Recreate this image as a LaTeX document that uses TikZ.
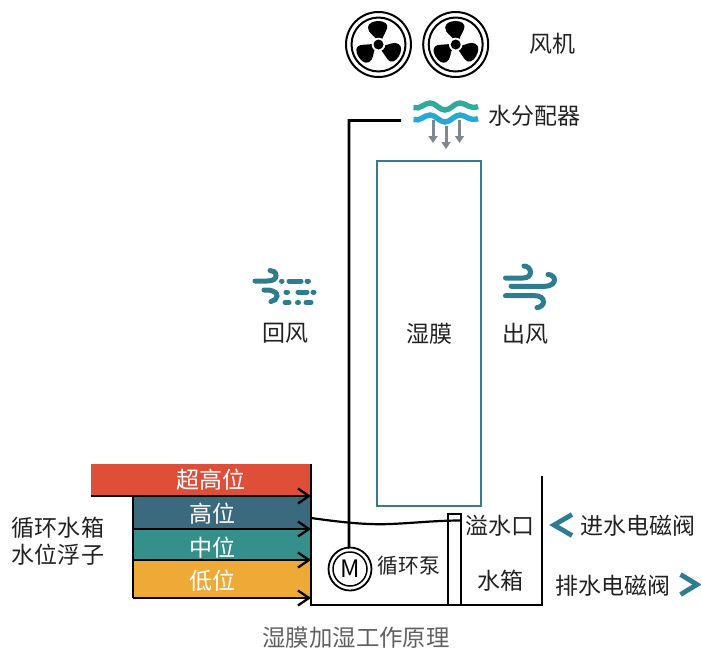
\documentclass[tikz,border=0pt]{standalone}
\usepackage{fontspec}
\setmainfont{Noto Sans CJK SC}
\usetikzlibrary{arrows.meta}
\definecolor{cRed}{HTML}{DE4E39}
\definecolor{cBlue}{HTML}{3B6A7E}
\definecolor{cTeal}{HTML}{35908B}
\definecolor{cOrange}{HTML}{EEA937}
\definecolor{cFrame}{HTML}{3A7A8E}
\definecolor{cWind}{HTML}{2E7C90}
\definecolor{cWaveA}{HTML}{2FAB9E}
\definecolor{cWaveB}{HTML}{27A9D6}
\definecolor{cGrayArrow}{HTML}{7F8790}
\definecolor{cText}{HTML}{222222}
\tikzset{
  lab/.style={inner sep=0pt,text=cText,font=\fontsize{23}{26}\selectfont},
  labw/.style={lab,text=white},
  labs/.style={lab,font=\fontsize{20.8}{24}\selectfont},
  captionlab/.style={lab,text=black!62,font=\fontsize{23.4}{26}\selectfont},
  levelbox/.style={inner sep=0pt,outer sep=0pt,minimum height=#1,draw=none},
  bline/.style={black,line width=2.6pt},
  hooked/.style={black,line width=2.5pt,-{Straight Barb[length=11pt,width=15pt,line width=2.3pt]}},
  windl/.style={cWind,line width=5pt,line cap=round},
  arr/.style={cGrayArrow,line width=3pt,-{Triangle[length=7pt,width=9pt]}},
  chev/.style={cWind,line width=4.8pt},
  fanring/.style={circle,draw=black,line width=2pt,inner sep=0pt},
  fanpic/.pic={
    \foreach \a in {0,120,240}{
      \fill[black,rotate=\a] (-2,-5) .. controls (-4,-9) and (-10.5,-11) .. (-10.5,-17)
        .. controls (-10.5,-21.5) and (-5,-23.5) .. (0,-23.5)
        .. controls (6,-23.5) and (10,-20.5) .. (8.5,-16)
        .. controls (7,-12) and (5,-9) .. (3.5,-5) -- cycle;
    }
    \fill[white] (0,0) circle (6.8pt);
    \fill[black] (0,0) circle (5pt);
  }
}
\begin{document}
\begin{tikzpicture}[x=1pt,y=-1pt]
\useasboundingbox (0,0) rectangle (701,649);
% fans
\node[fanring,minimum size=65pt] (fanA) at (378.5,44.5) {};
\node[fanring,minimum size=54pt] (fanAi) at (378.5,44.5) {};
\pic at (fanA) {fanpic};
\node[fanring,minimum size=65pt] (fanB) at (455.7,44.5) {};
\node[fanring,minimum size=54pt] (fanBi) at (455.7,44.5) {};
\pic at (fanB) {fanpic};
\node[lab] (tFan) at (552,43.5) {风机};
% distributor
\draw[cWaveA,line width=5.4pt] (413.5,107.5) .. controls (420,110) and (424,103) .. (430,103)
  .. controls (436,103) and (439,110) .. (445,110) .. controls (451,110) and (454,103) .. (460,103)
  .. controls (466,103) and (470,110) .. (478,106.5);
\draw[cWaveB,line width=5.4pt] (413.5,119.5) .. controls (420,122) and (424,115) .. (430,115)
  .. controls (436,115) and (439,122) .. (445,122) .. controls (451,122) and (454,115) .. (460,115)
  .. controls (466,115) and (470,122) .. (478,118.5);
\coordinate (a1s) at (433,120); \coordinate (a1e) at (433,143);
\coordinate (a2s) at (446,126); \coordinate (a2e) at (446,149);
\coordinate (a3s) at (459.5,120); \coordinate (a3e) at (459.5,143);
\draw[arr] (a1s) -- (a1e);
\draw[arr] (a2s) -- (a2e);
\draw[arr] (a3s) -- (a3e);
\node[lab] (tDist) at (534,116) {水分配器};
% membrane
\node[draw=cFrame,line width=2.8pt,minimum width=104pt,minimum height=345pt,inner sep=0pt] (film) at (429,333.5) {};
\node[lab] (tFilm) at (429,333.5) {湿膜};
% wind icons
\draw[windl] (255,281) -- (267,281) .. controls (273,281) and (276,279) .. (276,275.5) .. controls (276,272) and (273,270.5) .. (270,270.5);
\draw[windl] (264,290) -- (268,290) .. controls (275,291) and (277,293) .. (277,296) .. controls (277,299) and (274,301) .. (271,301.5);
\draw[windl] (281.5,281) -- (282,281) (289,281) -- (301,281) (307,281) -- (308.5,281);
\draw[windl] (286,292) -- (287.5,292) (298,292) -- (307,292) (313,292) -- (314,292);
\draw[windl] (285,302.5) -- (289,302.5) (297.5,302.5) -- (298.5,302.5) (306,302.5) -- (311,302.5);
\draw[windl] (505.5,278) -- (523,278) .. controls (528,278) and (530.5,275.5) .. (530.5,272) .. controls (530.5,268.5) and (527,266) .. (524,266);
\draw[windl] (511,286.3) -- (545,286.3) .. controls (551,286.3) and (554.5,283) .. (554.5,280) .. controls (554.5,277) and (551.5,274.5) .. (548,274.5);
\draw[windl] (505.5,295.7) -- (535,295.7) .. controls (540,295.7) and (543.5,298) .. (543.5,302) .. controls (543.5,305) and (540,307.5) .. (537,307.5);
\node[lab] (tBack) at (285,333.5) {回风};
\node[lab] (tOut) at (525,333.5) {出风};
% levels
\node[levelbox=32pt,minimum width=220pt,fill=cRed] (lvA) at (201,480) {};
\node[levelbox=33pt,minimum width=178pt,fill=cBlue] (lvB) at (222,512.5) {};
\node[levelbox=31pt,minimum width=178pt,fill=cTeal] (lvC) at (222,544.5) {};
\node[levelbox=38pt,minimum width=178pt,fill=cOrange] (lvD) at (222,579) {};
\node[labw] (tA) at (211,479.5) {超高位};
\node[labw] (tB) at (212,513.5) {高位};
\node[labw] (tC) at (212,547.5) {中位};
\node[labw] (tD) at (212,580.5) {低位};
\draw[hooked] (lvA.south west) -- (lvA.south east);
\draw[hooked] (lvB.south west) -- (lvB.south east);
\draw[hooked] (lvC.south west) -- (lvC.south east);
\draw[hooked] (lvD.south west) -- (lvD.south east);
\draw[bline] (lvB.north west) -- (lvD.south west);
\node[lab] (tFloatA) at (58,527.5) {循环水箱};
\node[lab] (tFloatB) at (58,554.5) {水位浮子};
% tank
\coordinate (tankTL) at (311,464);
\coordinate (tankBL) at (311,605);
\coordinate (tankBR) at (542,605);
\coordinate (tankTR) at (542,476);
\draw[bline] (tankTL) -- (tankBL) -- (tankBR) -- (tankTR);
\node[draw=black,line width=2.6pt,minimum width=13pt,minimum height=91pt,inner sep=0pt] (tube) at (454.5,559.5) {};
\draw[black,line width=2.2pt] (311,518) .. controls (340,522) and (365,525) .. (390,524)
  .. controls (415,523) and (435,520.5) .. (461,520.5);
% pump
\node[circle,draw=black,line width=1.8pt,minimum size=43pt,inner sep=0pt] (pump) at (350,569) {};
\node[circle,draw=black,line width=1.5pt,minimum size=34pt,inner sep=0pt,font=\fontsize{24}{26}\selectfont] (pumpi) at (350,569) {M};
\coordinate (pipeA) at (349,120.5);
\coordinate (pipeB) at (401,120.5);
\draw[bline] (pump.north) -- (349,547) -- (pipeA) -- (pipeB);
\node[labs] (tPump) at (409,565.5) {循环泵};
\node[lab] (tOver) at (500,525.5) {溢水口};
\node[lab] (tTank) at (500,580.5) {水箱};
\node[lab] (tIn) at (638,525.5) {进水电磁阀};
\node[lab] (tDrain) at (612.5,585.5) {排水电磁阀};
\draw[chev] (572,514.5) -- (554,525) -- (572,535.5);
\draw[chev] (680.5,574.5) -- (697,584.5) -- (680.5,594.5);
\node[captionlab] (tCap) at (356,637.5) {湿膜加湿工作原理};
\end{tikzpicture}
\end{document}
